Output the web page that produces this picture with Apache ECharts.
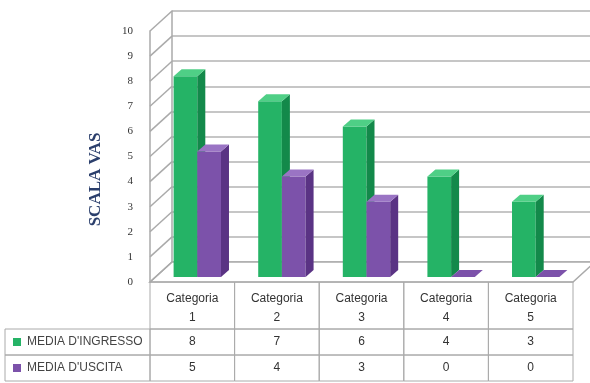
<!DOCTYPE html>
<html>
<head>
<meta charset="utf-8">
<script src="https://cdn.jsdelivr.net/npm/echarts@6/dist/echarts.min.js"></script>
<style>
html,body{margin:0;padding:0;background:#fff;}
#main{width:590px;height:383px;}
</style>
</head>
<body>
<div id="main"></div>
<script>
var categorie = ['Categoria\n1', 'Categoria\n2', 'Categoria\n3', 'Categoria\n4', 'Categoria\n5'];
var nomiSerie = ['MEDIA D\'INGRESSO', 'MEDIA D\'USCITA'];
var ingresso = [8, 7, 6, 4, 3];
var uscita = [5, 4, 3, 0, 0];
var tacche = [0, 1, 2, 3, 4, 5, 6, 7, 8, 9, 10];

var colori = [
	{front: '#25b366', side: '#13894a', top: '#4fcf86'},
	{front: '#7c52aa', side: '#5a3384', top: '#9a74c4'}
];

var PX = 22, PY = -20;          // depth of the wall
var BX = 5, BY = -5;            // bars sit a bit behind the front plane
var DX = 8, DY = -7;            // depth of one bar

var chart = echarts.init(document.getElementById('main'));

//3D bar
function makeBar(serieIdx) {
	return function(params, api) {
		var i = api.value(0);
		var v = api.value(1);
		var band = api.size([1, 0])[0];
		var w = band * 0.28;
		var p0 = api.coord([i, 0]);
		var p1 = api.coord([i, v]);
		var x = p0[0] + BX + (serieIdx == 0 ? -w : 0);
		var yb = p0[1] + BY;
		var yt = p1[1] + BY;
		var c = colori[serieIdx];
		var kids = [];
		if (v > 0) {
			kids.push({type: 'rect', shape: {x: x, y: yt, width: w, height: yb - yt}, style: {fill: c.front}});
			kids.push({type: 'polygon', shape: {points: [[x + w, yt], [x + w + DX, yt + DY], [x + w + DX, yb + DY], [x + w, yb]]}, style: {fill: c.side}});
		}
		kids.push({type: 'polygon', shape: {points: [[x, yt], [x + DX, yt + DY], [x + w + DX, yt + DY], [x + w, yt]]}, style: {fill: v > 0 ? c.top : c.front}});
		return {type: 'group', children: kids};
	};
}

//walls, floor and diagonals
function renderWall(params, api) {
	var cs = params.coordSys;
	var v = api.value(0);
	var p = api.coord([0, v]);
	var x0 = cs.x;
	var kids = [{type: 'line', shape: {x1: x0, y1: p[1], x2: x0 + PX, y2: p[1] + PY}, style: {stroke: '#aaa', lineWidth: 1.5}}];
	if (v == 0) {
		var yb = cs.y + cs.height;
		kids.push({type: 'polygon', shape: {points: [[x0, yb], [x0 + cs.width, yb], [x0 + cs.width + PX, yb + PY], [x0 + PX, yb + PY]]},
			style: {fill: '#fff', stroke: '#aaa', lineWidth: 1.5}, z2: -1});
	}
	return {type: 'group', children: kids};
}

//data table under the chart
function renderTable(params, api) {
	var cs = params.coordSys;
	var i = api.value(0);
	var band = api.size([1, 0])[0];
	var cx = api.coord([i, 0])[0];
	var y0 = cs.y + cs.height;
	var rows = [y0, 329, 355, 381];
	var kids = [];
	var testi = [categorie[i], String(ingresso[i]), String(uscita[i])];
	for (var r = 0; r < 3; r++) {
		kids.push({type: 'rect', shape: {x: cx - band / 2, y: rows[r], width: band, height: rows[r + 1] - rows[r]},
			style: {fill: 'none', stroke: '#aaa', lineWidth: 1}});
		kids.push({type: 'text', x: cx, y: (rows[r] + rows[r + 1]) / 2 + (r == 0 ? 3 : 0),
			style: {text: testi[r], fill: '#333', font: '12px "Liberation Sans"', align: 'center', verticalAlign: 'middle', lineHeight: 19}});
	}
	return {type: 'group', children: kids};
}

function legendCells() {
	var rows = [[329, 355], [355, 381]];
	var g = [];
	for (var k = 0; k < 2; k++) {
		var ym = (rows[k][0] + rows[k][1]) / 2;
		g.push({type: 'rect', shape: {x: 5, y: rows[k][0], width: 145, height: rows[k][1] - rows[k][0]},
			style: {fill: 'none', stroke: '#aaa', lineWidth: 1}});
		g.push({type: 'rect', shape: {x: 13, y: ym - 4, width: 8, height: 8}, style: {fill: colori[k].front}});
		g.push({type: 'text', x: 27, y: ym,
			style: {text: nomiSerie[k], fill: '#444', font: '12px "Liberation Sans"', verticalAlign: 'middle'}});
	}
	return g;
}

var idx = [0, 1, 2, 3, 4];

chart.setOption({
	animation: false,
	grid: [
		{left: 150, top: 31, width: 423, height: 251},
		{left: 150 + PX, top: 31 + PY, width: 423, height: 251}
	],
	xAxis: [
		{type: 'category', gridIndex: 0, data: idx, axisLine: {show: false}, axisTick: {show: false}, axisLabel: {show: false}},
		{type: 'category', gridIndex: 1, data: idx, axisLine: {show: false}, axisTick: {show: false}, axisLabel: {show: false}}
	],
	yAxis: [
		{type: 'value', gridIndex: 0, min: 0, max: 10, interval: 1,
			name: 'SCALA VAS', nameLocation: 'middle', nameRotate: 90, nameGap: 46,
			nameTextStyle: {color: '#2b3f6c', fontFamily: 'Liberation Serif', fontWeight: 'bold', fontSize: 17, padding: [0, 46, 0, 0]},
			axisLine: {show: true, lineStyle: {color: '#aaa', width: 1.5}}, axisTick: {show: false},
			axisLabel: {color: '#333', fontFamily: 'Liberation Serif', fontSize: 11, margin: 17},
			splitLine: {show: false}},
		{type: 'value', gridIndex: 1, min: 0, max: 10, interval: 1,
			axisLine: {show: true, lineStyle: {color: '#aaa', width: 1.5}}, axisTick: {show: false}, axisLabel: {show: false},
			splitLine: {show: true, lineStyle: {color: '#b3b3b3', width: 1.5}}}
	],
	graphic: legendCells(),
	series: [
		{type: 'custom', xAxisIndex: 0, yAxisIndex: 0, data: tacche.map(function(t) { return [t]; }),
			renderItem: renderWall, encode: {y: 0}, clip: false, z: 1},
		{type: 'custom', name: nomiSerie[0], xAxisIndex: 0, yAxisIndex: 0, clip: false, z: 3,
			data: ingresso.map(function(v, i) { return [i, v]; }), renderItem: makeBar(0), encode: {x: 0, y: 1}},
		{type: 'custom', name: nomiSerie[1], xAxisIndex: 0, yAxisIndex: 0, clip: false, z: 4,
			data: uscita.map(function(v, i) { return [i, v]; }), renderItem: makeBar(1), encode: {x: 0, y: 1}},
		{type: 'custom', xAxisIndex: 0, yAxisIndex: 0, clip: false, z: 2,
			data: idx.map(function(i) { return [i]; }), renderItem: renderTable, encode: {x: 0}}
	]
});
</script>
</body>
</html>
